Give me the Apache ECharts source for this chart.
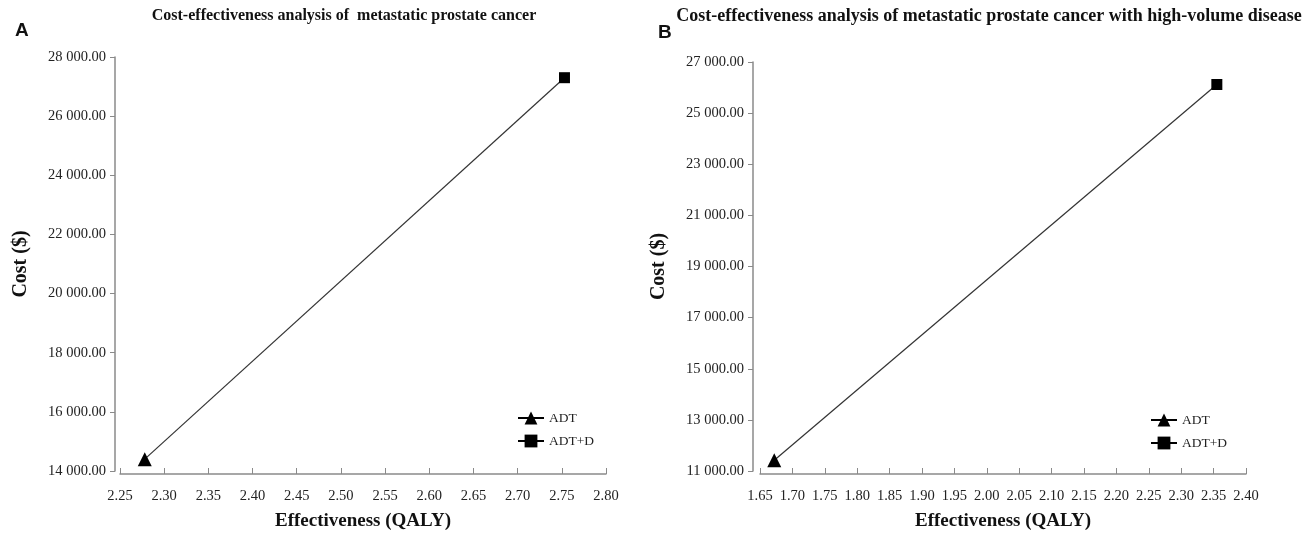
<!DOCTYPE html>
<html><head><meta charset="utf-8">
<script src="https://cdn.jsdelivr.net/npm/echarts@6/dist/echarts.min.js"></script>
<style>html,body{margin:0;padding:0;background:#fff}#c{width:1306px;height:536px}</style>
</head><body><div id="c"></div>
<script>
// Panel A: metastatic prostate cancer
const titleA = 'Cost-effectiveness analysis of  metastatic prostate cancer';
const adtA = [2.278, 14400];
const adtdA = [2.753, 27300];
const xTicksA = {min: 2.25, max: 2.80, interval: 0.05};
const yTicksA = {min: 14000, max: 28000, interval: 2000};
// Panel B: high-volume disease
const titleB = 'Cost-effectiveness analysis of metastatic prostate cancer with high-volume disease';
const adtB = [1.672, 11420];
const adtdB = [2.355, 26120];
const xTicksB = {min: 1.65, max: 2.40, interval: 0.05};
const yTicksB = {min: 11000, max: 27000, interval: 2000};
const seriesNames = ['ADT', 'ADT+D'];

const serif = 'Liberation Serif';
const axisGray = '#8a8a8a';
function fmtY(v){ return v.toLocaleString('en-US',{minimumFractionDigits:2,maximumFractionDigits:2}).replace(/,/g,' '); }
function mkX(idx, t, offset){
  return {type:'value', gridIndex:idx, min:t.min, max:t.max, interval:t.interval, offset:offset,
    name:'Effectiveness (QALY)', nameLocation:'middle', nameGap:38,
    nameTextStyle:{fontFamily:serif, fontWeight:'bold', fontSize:19, color:'#111'},
    axisLine:{lineStyle:{color:axisGray, width:1.5}},
    axisTick:{inside:true, length:6, lineStyle:{color:axisGray}},
    axisLabel:{fontFamily:serif, fontSize:14.5, color:'#222', margin:15, formatter:v=>v.toFixed(2)},
    splitLine:{show:false}};
}
function mkY(idx, t, offset){
  return {type:'value', gridIndex:idx, min:t.min, max:t.max, interval:t.interval, offset:offset,
    name:'Cost ($)', nameLocation:'middle', nameGap:84,
    nameTextStyle:{fontFamily:serif, fontWeight:'bold', fontSize:20, color:'#111'},
    axisLine:{show:true, lineStyle:{color:axisGray, width:1.5}},
    axisTick:{show:true, length:5, lineStyle:{color:axisGray}},
    axisLabel:{fontFamily:serif, fontSize:14.5, color:'#222', margin:9, formatter:fmtY},
    splitLine:{show:false}};
}
function panelSeries(idx, adt, adtd){
  return [
    {type:'line', name:'link'+idx, xAxisIndex:idx, yAxisIndex:idx, data:[adtd, adt], symbol:'none',
     lineStyle:{color:'#333', width:1.2}, silent:true, z:1},
    {type:'line', name:seriesNames[0], xAxisIndex:idx, yAxisIndex:idx, data:[adt], symbol:'triangle', symbolSize:14,
     itemStyle:{color:'#000'}, lineStyle:{color:'#000', width:1}, z:3},
    {type:'line', name:seriesNames[1], xAxisIndex:idx, yAxisIndex:idx, data:[adtd], symbol:'rect', symbolSize:11,
     itemStyle:{color:'#000'}, lineStyle:{color:'#000', width:1}, z:3}
  ];
}
function legend(left, top){
  return {data:seriesNames, orient:'vertical', left:left, top:top, itemWidth:26, itemHeight:16, itemGap:9,
    textStyle:{fontFamily:serif, fontSize:13.5, color:'#222'}};
}
const chart = echarts.init(document.getElementById('c'));
chart.setOption({
  animation:false,
  title:[
    {text:titleA, left:339, textAlign:'center', top:3, textStyle:{fontFamily:serif, fontWeight:'bold', fontSize:16, color:'#111'}},
    {text:titleB, left:984, textAlign:'center', top:2, textStyle:{fontFamily:serif, fontWeight:'bold', fontSize:18, color:'#111'}},
    {text:'A', left:10, top:16, textStyle:{fontFamily:'Liberation Sans', fontWeight:'bold', fontSize:19, color:'#111'}},
    {text:'B', left:653, top:18, textStyle:{fontFamily:'Liberation Sans', fontWeight:'bold', fontSize:19, color:'#111'}}
  ],
  legend:[legend(512, 406), legend(1145, 408)],
  grid:[
    {left:120, top:57, width:486, height:429},
    {left:760, top:62, width:486, height:423}
  ],
  xAxis:[mkX(0, xTicksA, 3), mkX(1, xTicksB, 3)],
  yAxis:[mkY(0, yTicksA, 5), mkY(1, yTicksB, 7)],
  series:[...panelSeries(0, adtA, adtdA), ...panelSeries(1, adtB, adtdB)]
});
</script></body></html>
